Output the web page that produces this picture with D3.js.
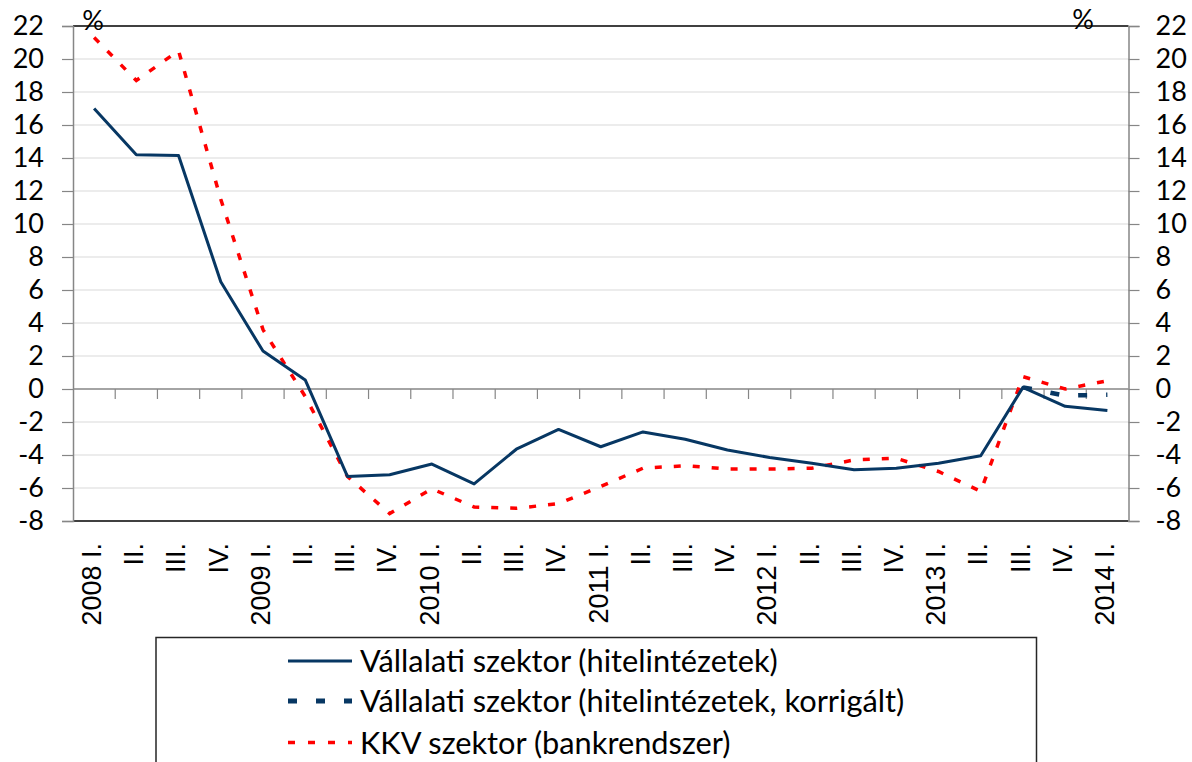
<!DOCTYPE html>
<html>
<head>
<meta charset="utf-8">
<script src="https://cdn.jsdelivr.net/npm/d3@7"></script>
<style>
  html, body { margin: 0; padding: 0; background: #fff; }
  svg { display: block; }
</style>
</head>
<body>
<svg id="chart" width="1192" height="762"></svg>
<script>
const categories = ["2008 I.","II.","III.","IV.","2009 I.","II.","III.","IV.","2010 I.","II.","III.","IV.",
  "2011 I.","II.","III.","IV.","2012 I.","II.","III.","IV.","2013 I.","II.","III.","IV.","2014 I."];
const vallalati = [17.0, 14.2, 14.15, 6.5, 2.3, 0.55, -5.3, -5.2, -4.55, -5.75, -3.65, -2.45,
  -3.5, -2.6, -3.05, -3.7, -4.15, -4.5, -4.9, -4.8, -4.5, -4.05, 0.1, -1.05, -1.3];
const vallalatiKorr = [null, null, null, null, null, null, null, null, null, null, null, null,
  null, null, null, null, null, null, null, null, null, null, 0.1, -0.4, -0.35];
const kkv = [21.3, 18.7, 20.5, 11.5, 3.6, -0.45, -5.3, -7.55, -6.05, -7.15, -7.23, -6.95,
  -5.9, -4.8, -4.65, -4.85, -4.85, -4.8, -4.3, -4.2, -5.0, -6.2, 0.75, 0.0, 0.5];
const yTicks = [-8, -6, -4, -2, 0, 2, 4, 6, 8, 10, 12, 14, 16, 18, 20, 22];
const legendLabels = ["Vállalati szektor (hitelintézetek)",
  "Vállalati szektor (hitelintézetek, korrigált)",
  "KKV szektor (bankrendszer)"];

const svg = d3.select("#chart");
const L = 73, R = 1128.5, T = 26, B = 521;
const navy = "#073763", red = "#ff0000";
const calibri = "Lato, 'Open Sans', sans-serif";

const x = d3.scaleBand().domain(d3.range(categories.length)).range([L, R]);
const y = d3.scaleLinear().domain([-8, 22]).range([B, T]);
const cx = i => x(i) + x.bandwidth() / 2;

// gridlines
svg.append("g").selectAll("line").data(yTicks.filter(v => v !== 0 && v !== 22 && v !== -8))
  .join("line")
  .attr("x1", L).attr("x2", R).attr("y1", d => y(d)).attr("y2", d => y(d))
  .attr("stroke", "#d9d9d9").attr("stroke-width", 1.2);

// top and bottom borders
svg.append("line").attr("x1", L).attr("x2", R).attr("y1", y(22)).attr("y2", y(22))
  .attr("stroke", "#000").attr("stroke-width", 1.5);
svg.append("line").attr("x1", L).attr("x2", R).attr("y1", y(-8)).attr("y2", y(-8))
  .attr("stroke", "#404040").attr("stroke-width", 2);

// left axis
const gl = svg.append("g").attr("transform", `translate(${L},0)`)
  .call(d3.axisLeft(y).tickValues(yTicks).tickSize(11).tickPadding(18).tickFormat(d3.format("d")));
// right axis
const gr = svg.append("g").attr("transform", `translate(${R},0)`)
  .call(d3.axisRight(y).tickValues(yTicks).tickSize(11).tickPadding(16).tickFormat(d3.format("d")));
[gl, gr].forEach(g => {
  g.select(".domain").attr("stroke", "#868686").attr("stroke-width", 1.5);
  g.selectAll(".tick line").attr("stroke", "#868686").attr("stroke-width", 1.2);
  g.selectAll(".tick text").attr("font-family", calibri).attr("font-size", 27)
    .attr("fill", "#000").text(d => d < 0 ? "-" + Math.abs(d) : d);
});

// x axis at zero with ticks at category boundaries
svg.append("line").attr("x1", L).attr("x2", R).attr("y1", y(0)).attr("y2", y(0))
  .attr("stroke", "#868686").attr("stroke-width", 1.5);
svg.append("g").selectAll("line").data(d3.range(1, categories.length)).join("line")
  .attr("x1", i => x(i)).attr("x2", i => x(i))
  .attr("y1", y(0)).attr("y2", y(0) + 10)
  .attr("stroke", "#868686").attr("stroke-width", 1.2);

// category labels
svg.append("g").selectAll("text").data(categories).join("text")
  .attr("transform", (d, i) => `translate(${cx(i)},543) rotate(-90)`)
  .attr("text-anchor", "end").attr("dy", "0.25em")
  .attr("font-family", "'Liberation Sans', Arial, sans-serif").attr("font-size", 27)
  .attr("fill", "#000").text(d => d);

// % labels
svg.append("text").attr("x", 93).attr("y", 30).attr("text-anchor", "middle")
  .attr("font-family", calibri).attr("font-size", 27).text("%");
svg.append("text").attr("x", 1083).attr("y", 29).attr("text-anchor", "middle")
  .attr("font-family", calibri).attr("font-size", 27).text("%");

// series
const line = d3.line().defined(d => d != null).x((d, i) => cx(i)).y(d => y(d));
svg.append("path").datum(kkv).attr("d", line).attr("fill", "none")
  .attr("stroke", red).attr("stroke-width", 3.5).attr("stroke-dasharray", "7,12");
svg.append("path").datum(vallalati).attr("d", line).attr("fill", "none")
  .attr("stroke", navy).attr("stroke-width", 3).attr("stroke-linejoin", "round");
svg.append("path").datum(vallalatiKorr).attr("d", line).attr("fill", "none")
  .attr("stroke", navy).attr("stroke-width", 4.5).attr("stroke-dasharray", "9,19");

// legend
svg.append("rect").attr("x", 156).attr("y", 637.5).attr("width", 880.5).attr("height", 200)
  .attr("fill", "none").attr("stroke", "#262626").attr("stroke-width", 1.5);
const rows = [661, 701, 742.5];
const styles = [
  { stroke: navy, w: 3, dash: null },
  { stroke: navy, w: 5, dash: "9,19" },
  { stroke: red, w: 3.5, dash: "7,13" }
];
const lg = svg.append("g");
styles.forEach((s, k) => {
  lg.append("line").attr("x1", 288).attr("x2", 352).attr("y1", rows[k]).attr("y2", rows[k])
    .attr("stroke", s.stroke).attr("stroke-width", s.w)
    .attr("stroke-dasharray", s.dash);
});
const lt = lg.selectAll("text.lab").data(legendLabels).join("text").attr("class", "lab")
  .attr("x", 360).attr("y", (d, k) => rows[k]).attr("dy", "0.36em")
  .attr("font-family", calibri).attr("font-size", 28).attr("fill", "#000").text(d => d);
// fit font size so first label spans ~418px as in the reference
const w0 = lt.node().getComputedTextLength();
if (w0 > 0) lt.attr("font-size", 28 * 418 / w0);
</script>
</body>
</html>
